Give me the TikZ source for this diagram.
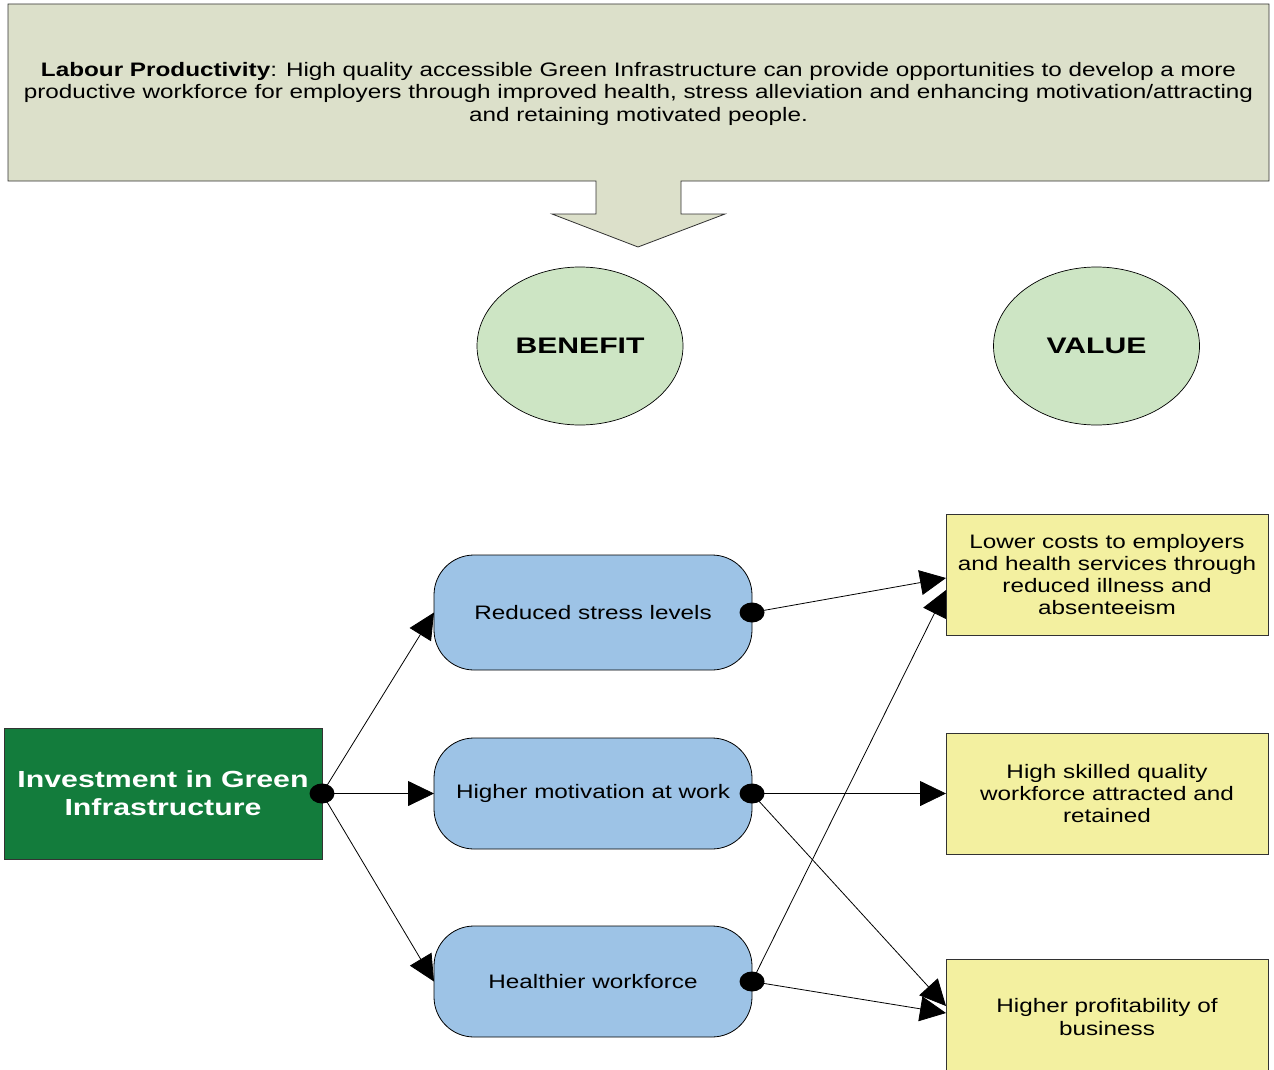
\documentclass[tikz,border=0pt]{standalone}
\usepackage{fontspec}
\usetikzlibrary{arrows.meta,shapes.geometric}
\newfontfamily\regf[FakeStretch=1.245]{Liberation Sans}
\newfontfamily\grnf[FakeStretch=1.3]{Liberation Sans}
\newfontfamily\ellf[FakeStretch=1.34]{Liberation Sans}

\definecolor{hdrfill}{RGB}{220,224,202}
\definecolor{ellfill}{RGB}{205,229,196}
\definecolor{grnfill}{RGB}{19,124,60}
\definecolor{bluefill}{RGB}{157,195,230}
\definecolor{yelfill}{RGB}{243,240,160}
\definecolor{edgegray}{RGB}{50,50,50}

\tikzset{
  hdrshape/.style={draw=edgegray, line width=0.8pt, fill=hdrfill},
  hdrtext/.style={align=center, inner sep=0pt, font=\regf\fontsize{19.5}{22.5}\selectfont},
  headell/.style={ellipse, draw=black, line width=0.7pt, fill=ellfill, inner sep=0pt, outer sep=0pt,
    minimum width=206pt, minimum height=158pt, font=\ellf\bfseries\fontsize{22.5}{26}\selectfont},
  sourcebox/.style={rectangle, draw=black!80, line width=0.8pt, fill=grnfill, text=white, align=center,
    inner sep=0pt, outer sep=0pt, minimum width=318pt, minimum height=131pt,
    font=\grnf\bfseries\fontsize{23.3}{28}\selectfont},
  benefitbox/.style={rectangle, rounded corners=40pt, draw=black, line width=0.8pt, fill=bluefill,
    align=center, inner sep=0pt, outer sep=0pt, minimum width=318pt,
    font=\regf\fontsize{19.5}{22.5}\selectfont},
  valuebox/.style={rectangle, draw=edgegray, line width=0.8pt, fill=yelfill, align=center,
    inner sep=0pt, outer sep=0pt, minimum width=322pt, minimum height=121pt,
    font=\regf\fontsize{19.5}{22.2}\selectfont},
  conn/.style={draw=black, line width=0.8pt, -{Triangle[length=26pt,width=25pt]}},
  srcdot/.style={fill=black}
}

\begin{document}
\begin{tikzpicture}[x=1pt,y=-1pt]
  \useasboundingbox (0,0) rectangle (1274,1070);
  \clip (0,0) rectangle (1274,1070);

  % heading panel with its downward callout arrow
  \draw[hdrshape] (8,4) -- (1269,4) -- (1269,181) -- (681,181) -- (681,214) -- (725,214)
    -- (638,247) -- (552,214) -- (596,214) -- (596,181) -- (8,181) -- cycle;
  \node[hdrtext] (hdr) at (638.5,93.5) {\textbf{Labour Productivity}: High quality accessible Green Infrastructure can provide opportunities to develop a more\\
    productive workforce for employers through improved health, stress alleviation and enhancing motivation/attracting\\
    and retaining motivated people.};

  % column headings
  \node[headell] (benefit) at (580,346) {BENEFIT};
  \node[headell] (value) at (1096.5,346) {VALUE};

  % source
  \node[sourcebox] (gi) at (163,793.5) {Investment in Green\\Infrastructure};

  % benefits
  \node[benefitbox, minimum height=115pt] (b1) at (593,612.5) {Reduced stress levels};
  \node[benefitbox, minimum height=111pt] (b2) at (593,793.5) {\raisebox{-1.5pt}{Higher motivation at work}};
  \node[benefitbox, minimum height=111pt] (b3) at (593,981.5) {Healthier workforce};

  % values
  \node[valuebox] (v1) at (1107,574.5) {Lower costs to employers\\and health services through\\reduced illness and\\absenteeism};
  \node[valuebox] (v2) at (1107,793.5) {High skilled quality\\workforce attracted and\\retained};
  \node[valuebox] (v3) at (1107,1019.5) {\raisebox{4.5pt}{\begin{tabular}{@{}c@{}}Higher profitability of\\business\end{tabular}}};

  % connectors
  \draw[conn] (gi.east) -- (b1.west);
  \draw[conn] (gi.east) -- (b2.west);
  \draw[conn] (gi.east) -- (b3.west);
  \draw[conn] (b1.east) -- ([yshift=-3.5pt]v1.west);
  \draw[conn] (b2.east) -- (v2.west);
  \draw[conn] (b2.east) -- ([yshift=13.5pt]v3.west);
  \draw[conn] (b3.east) -- ([yshift=-15.5pt]v1.west);
  \draw[conn] (b3.east) -- ([yshift=6.5pt]v3.west);

  % connection dots
  \fill[srcdot] (gi.east) ellipse [x radius=12.5pt, y radius=10pt];
  \fill[srcdot] (b1.east) ellipse [x radius=12.5pt, y radius=10pt];
  \fill[srcdot] (b2.east) ellipse [x radius=12.5pt, y radius=10pt];
  \fill[srcdot] (b3.east) ellipse [x radius=12.5pt, y radius=10pt];
\end{tikzpicture}
\end{document}
